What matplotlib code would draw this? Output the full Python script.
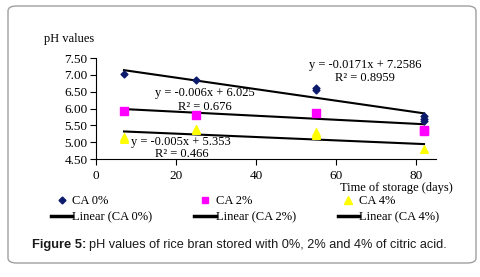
import matplotlib
matplotlib.use("Agg")
import numpy as np
import matplotlib.pyplot as plt
from matplotlib.patches import FancyBboxPatch
from matplotlib.lines import Line2D

# data (replicates at the same day)
days_0 = [7, 25, 55, 55, 82, 82, 82]
ph_0 = [7.02, 6.86, 6.60, 6.55, 5.77, 5.70, 5.63]
days_2 = [7, 25, 55, 82, 82]
ph_2 = [5.92, 5.80, 5.86, 5.36, 5.33]
days_4 = [7, 7, 25, 25, 55, 55, 55, 82]
ph_4 = [5.15, 5.10, 5.38, 5.35, 5.30, 5.25, 5.20, 4.79]

# trendline coefficients as printed
slopes = [-0.0171, -0.006, -0.005]
intercepts = [7.2586, 6.025, 5.353]
eq_text = ["y = -0.0171x + 7.2586", "y = -0.006x + 6.025", "y = -0.005x + 5.353"]
r2_text = ["R² = 0.8959", "R² = 0.676", "R² = 0.466"]
names = ["CA 0%", "CA 2%", "CA 4%"]

serif = "Liberation Serif"
fig = plt.figure(figsize=(4.81, 2.77), dpi=100)

# rounded frame around everything
fig.patches.append(FancyBboxPatch((8/481, 1-263/277), 468/481, 257/277,
                                  boxstyle="round,pad=0,rounding_size=0.018",
                                  transform=fig.transFigure, fill=False,
                                  edgecolor="#a0a0a0", linewidth=1.0))

ax = fig.add_axes([96/481, 1-159/277, 340/481, 101/277])
ax.set_xlim(0, 85)
ax.set_ylim(4.5, 7.5)
for s in ["top", "right"]:
    ax.spines[s].set_visible(False)
ax.set_xticks([0, 20, 40, 60, 80])
ax.set_yticks(np.arange(4.5, 7.51, 0.5))
ax.set_yticklabels(["%.2f" % v for v in np.arange(4.5, 7.51, 0.5)])
ax.tick_params(labelsize=9.5, length=4, width=0.8)
for lab in ax.get_xticklabels() + ax.get_yticklabels():
    lab.set_fontfamily(serif)
ax.tick_params(axis="x", pad=4)
ax.tick_params(axis="y", pad=2)

ax.scatter(days_0, ph_0, marker="D", s=12, color="#0b1a6b", zorder=3)
ax.scatter(days_2, ph_2, marker="s", s=30, color="#ff00ff", zorder=3)
ax.scatter(days_4, ph_4, marker="^", s=30, color="#ffff00", zorder=3)

xx = np.array([7, 82])
for m, b in zip(slopes, intercepts):
    ax.plot(xx, m * xx + b, color="black", lw=1.5, zorder=2)

fs = 9
ax.text(67.25, 7.29, eq_text[0], ha="center", va="center", family=serif, fontsize=fs)
ax.text(67.25, 6.91, r2_text[0], ha="center", va="center", family=serif, fontsize=fs)
ax.text(27.25, 6.46, eq_text[1], ha="center", va="center", family=serif, fontsize=fs)
ax.text(27.25, 6.05, r2_text[1], ha="center", va="center", family=serif, fontsize=fs)
ax.text(8.75, 5.0, eq_text[2], ha="left", va="center", family=serif, fontsize=fs)
ax.text(21.5, 4.65, r2_text[2], ha="center", va="center", family=serif, fontsize=fs)

fig.text(44/481, 1-39/277, "pH values", family=serif, fontsize=9, va="center")
fig.text(396/481, 1-188/277, "Time of storage (days)", family=serif, fontsize=9,
         ha="center", va="center")

handles = [
    Line2D([], [], ls="none", marker="D", ms=3.5, color="#0b1a6b"),
    Line2D([], [], color="black", lw=2.5),
    Line2D([], [], ls="none", marker="s", ms=5, color="#ff00ff"),
    Line2D([], [], color="black", lw=2.5),
    Line2D([], [], ls="none", marker="^", ms=5.5, color="#ffff00"),
    Line2D([], [], color="black", lw=2.5),
]
labels = []
for n in names:
    labels += [n, "Linear (%s)" % n]
leg = fig.legend(handles, labels, ncol=3, loc="center", bbox_to_anchor=(245/481, 1-209/277),
                 frameon=False,
                 prop={"family": serif, "size": 9}, handlelength=1.7, handletextpad=0.0,
                 columnspacing=3.35, labelspacing=0.3, borderpad=0.0)

t1 = fig.text(32/481, 1-245/277, "Figure 5:", family="Liberation Sans", fontweight="bold",
              fontsize=9.3, va="center", color="#1a1a1a")
fig.canvas.draw()
bb = t1.get_window_extent()
fig.text((bb.x1 + 3) / 481, 1-245/277,
         "pH values of rice bran stored with 0%, 2% and 4% of citric acid.",
         family="Liberation Sans", fontsize=9.2, va="center", color="#1a1a1a")

fig.savefig("out.png", dpi=100)
